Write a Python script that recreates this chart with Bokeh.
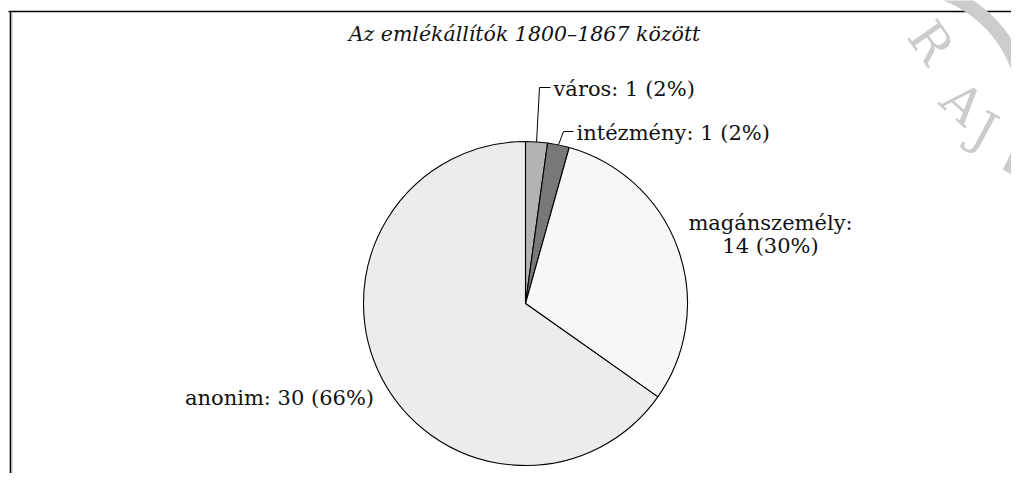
import math
from bokeh.plotting import figure
from bokeh.models import Range1d
from bokeh.core.properties import value
from bokeh.embed import file_html
from bokeh.resources import INLINE

categories = ["város", "intézmény", "magánszemély", "anonim"]
counts = [1, 1, 14, 30]
percents = [2, 2, 30, 66]
colors = ["#b3b3b3", "#787878", "#f7f7f7", "#ececec"]
title_text = "Az emlékállítók 1800–1867 között"

W, H = 1011, 473
p = figure(width=W, height=H, output_backend="svg", toolbar_location=None,
           x_range=Range1d(0, W), y_range=Range1d(0, H), min_border=0)
p.axis.visible = False
p.grid.visible = False
p.outline_line_color = None
p.background_fill_color = "white"

def X(sx):
    return sx
def Y(sy):
    return H - sy

FONT = value("DejaVu Serif")

# frame lines
p.segment(x0=[X(8), X(10)], y0=[Y(11), Y(11)], x1=[X(1019), X(10)], y1=[Y(11), Y(490)],
          line_color="black", line_width=1.6)
p.segment(x0=[X(12)], y0=[Y(12)], x1=[X(12)], y1=[Y(490)], line_color="#e0e0e0", line_width=1)

# watermark
p.arc(x=[X(900)], y=[Y(110)], radius=125, start_angle=math.radians(-30), end_angle=math.radians(80),
      line_color="#cccccc", line_width=14, direction="anticlock")
p.text(x=[X(930), X(962), X(984)], y=[Y(42), Y(103), Y(130)], text=["R", "A", "J"],
       angle=[math.radians(-55), math.radians(-42), math.radians(-28)],
       text_font=FONT, text_font_size="50px", text_color="#cccccc",
       text_align="center", text_baseline="middle")

# pie
cx, cy, r = X(525), Y(303), 162
total = sum(counts)
starts, ends = [], []
cum = 0
for c in counts:
    starts.append(math.pi / 2 - 2 * math.pi * cum / total)
    cum += c
    ends.append(math.pi / 2 - 2 * math.pi * cum / total)
p.wedge(x=[cx] * 4, y=[cy] * 4, radius=r, start_angle=starts, end_angle=ends,
        direction="clock", fill_color=colors, line_color="black", line_width=1.1)

# title
p.text(x=[X(524)], y=[Y(33)], text=[title_text], text_font=FONT, text_font_style="italic",
       text_font_size="20.5px", text_color="#111111", text_align="center", text_baseline="middle")

labels = [f"{categories[i]}: {counts[i]} ({percents[i]}%)" for i in range(4)]

# leader lines for small slices
mids = [(s + e) / 2 for s, e in zip(starts, ends)]
lx = []
ly = []
corners = [(X(539), Y(87), X(550)), (X(563), Y(131), X(573))]
for i in range(2):
    x0 = cx + r * math.cos(mids[i])
    y0 = cy + r * math.sin(mids[i])
    kx, ky, ex = corners[i]
    lx.append([x0, kx, ex])
    ly.append([y0, ky, ky])
p.multi_line(xs=lx, ys=ly, line_color="black", line_width=1)

FS = "21px"
p.text(x=[X(553), X(576)], y=[Y(88), Y(132)], text=labels[:2], text_font=FONT,
       text_font_size=FS, text_color="#111111", text_align="left", text_baseline="middle")
p.text(x=[X(770), X(770)], y=[Y(222), Y(245)], text=[f"{categories[2]}:", f"{counts[2]} ({percents[2]}%)"],
       text_font=FONT, text_font_size=FS, text_color="#111111",
       text_align="center", text_baseline="middle")
p.text(x=[X(279)], y=[Y(397)], text=[labels[3]], text_font=FONT,
       text_font_size=FS, text_color="#111111", text_align="center", text_baseline="middle")

open("out.html", "w").write(file_html(p, INLINE))
